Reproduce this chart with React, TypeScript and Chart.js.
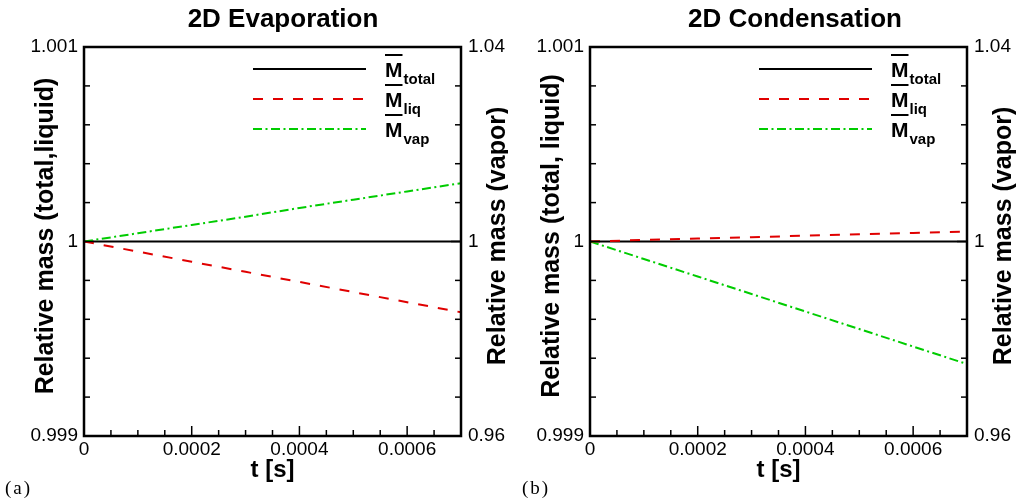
import React, { useEffect, useRef } from 'react';
import { Chart, registerables } from 'chart.js';

Chart.register(...registerables);

// ---------- data ----------
const timeValues = [0, 0.0001, 0.0002, 0.0003, 0.0004, 0.0005, 0.0006, 0.0007];

const evapTotal = [1, 1, 1, 1, 1, 1, 1, 1];
const evapLiquid = [1, 0.999948, 0.999896, 0.999844, 0.999792, 0.99974, 0.999688, 0.999636];
const evapVapor = [1, 1.0017, 1.0034, 1.0051, 1.0069, 1.0086, 1.0103, 1.012];

const condTotal = [1, 1, 1, 1, 1, 1, 1, 1];
const condLiquid = [1, 1.000008, 1.000015, 1.000022, 1.00003, 1.000037, 1.000044, 1.000051];
const condVapor = [1, 0.9964, 0.9928, 0.9892, 0.9856, 0.982, 0.9784, 0.9748];

// ---------- ticks ----------
const xTickValues = [0, 0.00005, 0.0001, 0.00015, 0.0002, 0.00025, 0.0003, 0.00035, 0.0004, 0.00045, 0.0005, 0.00055, 0.0006, 0.00065, 0.0007];
const xMajorValues = [0, 0.0002, 0.0004, 0.0006];
const xMajorLabels = ['0', '0.0002', '0.0004', '0.0006'];

const yLeftTickValues = [0.999, 0.9992, 0.9994, 0.9996, 0.9998, 1, 1.0002, 1.0004, 1.0006, 1.0008, 1.001];
const yLeftMajorValues = [0.999, 1, 1.001];
const yLeftMajorLabels = ['0.999', '1', '1.001'];

const yRightTickValues = [0.96, 0.968, 0.976, 0.984, 0.992, 1, 1.008, 1.016, 1.024, 1.032, 1.04];
const yRightMajorValues = [0.96, 1, 1.04];
const yRightMajorLabels = ['0.96', '1', '1.04'];

const legendNames = ['total', 'liq', 'vap'];
const seriesColors = ['#000000', '#e00000', '#00cc00'];

const FONT = '"Liberation Sans", Arial, Helvetica, sans-serif';

function labelFor(v: number, majors: number[], labels: string[]) {
  for (let i = 0; i < majors.length; i++) {
    if (Math.abs(v - majors[i]) < 1e-9) return labels[i];
  }
  return '';
}

type PanelCfg = {
  canvasLeft: number;
  width: number;
  yWidth: number;
  y2Width: number;
  title: string;
  titleCenter: number;
  yTitle: string;
  y2Title: string;
  tag: string;
  tagX: number;
  total: number[];
  liquid: number[];
  vapor: number[];
};

const panels: PanelCfg[] = [
  {
    canvasLeft: 0, width: 508, yWidth: 84, y2Width: 47,
    title: '2D Evaporation', titleCenter: 283,
    yTitle: 'Relative mass (total,liquid)', y2Title: 'Relative mass (vapor)',
    tag: '(a)', tagX: 5,
    total: evapTotal, liquid: evapLiquid, vapor: evapVapor,
  },
  {
    canvasLeft: 508, width: 509, yWidth: 82, y2Width: 50,
    title: '2D Condensation', titleCenter: 795,
    yTitle: 'Relative mass (total, liquid)', y2Title: 'Relative mass (vapor)',
    tag: '(b)', tagX: 522,
    total: condTotal, liquid: condLiquid, vapor: condVapor,
  },
];

const dashes: number[][] = [[], [10, 10], [9, 3.5, 2, 3.5]];

function Panel({ cfg }: { cfg: PanelCfg }) {
  const ref = useRef<HTMLCanvasElement>(null);

  useEffect(() => {
    const canvas = ref.current!;
    const off = cfg.canvasLeft;

    const decor = {
      id: 'decor',
      afterDatasetsDraw(chart: any) {
        const { ctx, chartArea: a } = chart;
        ctx.save();
        ctx.strokeStyle = '#000';
        ctx.lineWidth = 1.5;
        ctx.lineCap = 'butt';
        const xs = chart.scales.x;
        xs.ticks.forEach((t: any) => {
          const px = xs.getPixelForValue(t.value);
          const len = t.label ? 10 : 6;
          ctx.beginPath();
          ctx.moveTo(px, a.bottom);
          ctx.lineTo(px, a.bottom - len);
          ctx.stroke();
        });
        const ys = chart.scales.y;
        ys.ticks.forEach((t: any) => {
          const py = ys.getPixelForValue(t.value);
          const len = t.label ? 10 : 6;
          ctx.beginPath();
          ctx.moveTo(a.left, py);
          ctx.lineTo(a.left + len, py);
          ctx.stroke();
        });
        const y2 = chart.scales.y2;
        y2.ticks.forEach((t: any) => {
          const py = y2.getPixelForValue(t.value);
          const len = t.label ? 10 : 6;
          ctx.beginPath();
          ctx.moveTo(a.right, py);
          ctx.lineTo(a.right - len, py);
          ctx.stroke();
        });
        ctx.lineWidth = 2.5;
        ctx.strokeRect(a.left, a.top, a.right - a.left, a.bottom - a.top);
        ctx.restore();
      },
      afterDraw(chart: any) {
        const { ctx, chartArea: a } = chart;
        ctx.save();
        ctx.fillStyle = '#000';
        // title
        ctx.font = `bold 26px ${FONT}`;
        ctx.textAlign = 'center';
        ctx.textBaseline = 'alphabetic';
        ctx.fillText(cfg.title, cfg.titleCenter - off, 27);
        // x title
        ctx.font = `bold 24px ${FONT}`;
        ctx.fillText('t [s]', (a.left + a.right) / 2, 477);
        // y titles
        const midY = (a.top + a.bottom) / 2 - 5.5;
        ctx.save();
        ctx.translate(a.left - 31, midY);
        ctx.rotate(-Math.PI / 2);
        ctx.font = `bold 25px ${FONT}`;
        ctx.fillText(cfg.yTitle, 0, 0);
        ctx.restore();
        ctx.save();
        ctx.translate(a.right + 44, midY);
        ctx.rotate(-Math.PI / 2);
        ctx.font = `bold 25px ${FONT}`;
        ctx.fillText(cfg.y2Title, 0, 0);
        ctx.restore();
        // legend
        const x0 = a.left + 169;
        const x1 = a.left + 282;
        const tx = a.left + 301;
        legendNames.forEach((name, i) => {
          const ry = a.top + 22 + i * 30;
          ctx.save();
          ctx.strokeStyle = seriesColors[i];
          ctx.lineWidth = 2;
          ctx.setLineDash(dashes[i]);
          ctx.beginPath();
          ctx.moveTo(x0, ry);
          ctx.lineTo(x1, ry);
          ctx.stroke();
          ctx.restore();
          ctx.textAlign = 'left';
          ctx.font = `bold 21px ${FONT}`;
          const mw = ctx.measureText('M').width;
          ctx.fillText('M', tx, ry + 8);
          ctx.fillRect(tx, ry - 15, mw, 2);
          ctx.font = `bold 15px ${FONT}`;
          ctx.fillText(name, tx + mw + 1, ry + 15);
        });
        // panel tag
        ctx.font = `19px "Liberation Serif", "Times New Roman", serif`;
        (ctx as any).letterSpacing = '2px';
        ctx.textAlign = 'left';
        ctx.fillText(cfg.tag, cfg.tagX - off, 494);
        (ctx as any).letterSpacing = '0px';
        ctx.restore();
      },
    };

    const tickFont = { family: FONT, size: 19 };

    const chart = new Chart(canvas, {
      type: 'line',
      data: {
        datasets: [
          {
            label: 'liq',
            data: timeValues.map((t, i) => ({ x: t, y: cfg.liquid[i] })),
            borderColor: seriesColors[1],
            borderWidth: 2,
            borderDash: dashes[1],
            pointRadius: 0,
            yAxisID: 'y',
          },
          {
            label: 'vap',
            data: timeValues.map((t, i) => ({ x: t, y: cfg.vapor[i] })),
            borderColor: seriesColors[2],
            borderWidth: 2,
            borderDash: dashes[2],
            pointRadius: 0,
            yAxisID: 'y2',
          },
          {
            label: 'total',
            data: timeValues.map((t, i) => ({ x: t, y: cfg.total[i] })),
            borderColor: seriesColors[0],
            borderWidth: 2,
            pointRadius: 0,
            yAxisID: 'y',
          },
        ],
      },
      options: {
        animation: false,
        responsive: false,
        devicePixelRatio: 1,
        layout: { padding: { top: 47, left: 0, right: 0, bottom: 0 } },
        plugins: { legend: { display: false }, title: { display: false }, tooltip: { enabled: false } },
        scales: {
          x: {
            type: 'linear',
            position: 'bottom',
            min: 0,
            max: 0.0007,
            grid: { display: false, drawTicks: false },
            border: { display: false },
            afterBuildTicks: (s: any) => { s.ticks = xTickValues.map((v) => ({ value: v })); },
            afterFit: (s: any) => { s.height = 66; },
            ticks: {
              autoSkip: false,
              maxRotation: 0,
              minRotation: 0,
              padding: 2,
              color: '#000',
              font: tickFont,
              callback: (v: any) => labelFor(Number(v), xMajorValues, xMajorLabels),
            },
          },
          y: {
            type: 'linear',
            position: 'left',
            min: 0.999,
            max: 1.001,
            grid: { display: false, drawTicks: false },
            border: { display: false },
            afterBuildTicks: (s: any) => { s.ticks = yLeftTickValues.map((v) => ({ value: v })); },
            afterFit: (s: any) => { s.width = cfg.yWidth; },
            ticks: {
              autoSkip: false,
              padding: 6,
              color: '#000',
              font: tickFont,
              callback: (v: any) => labelFor(Number(v), yLeftMajorValues, yLeftMajorLabels),
            },
          },
          y2: {
            type: 'linear',
            position: 'right',
            min: 0.96,
            max: 1.04,
            grid: { display: false, drawTicks: false },
            border: { display: false },
            afterBuildTicks: (s: any) => { s.ticks = yRightTickValues.map((v) => ({ value: v })); },
            afterFit: (s: any) => { s.width = cfg.y2Width; },
            ticks: {
              autoSkip: false,
              padding: 7,
              color: '#000',
              font: tickFont,
              callback: (v: any) => labelFor(Number(v), yRightMajorValues, yRightMajorLabels),
            },
          },
        },
      },
      plugins: [decor],
    } as any);

    let alive = true;
    if ((document as any).fonts && (document as any).fonts.load) {
      Promise.all([
        (document as any).fonts.load(`bold 20px "Liberation Sans"`),
        (document as any).fonts.load(`20px "Liberation Sans"`),
        (document as any).fonts.load(`20px "Liberation Serif"`),
      ]).then(() => { if (alive) chart.update(); }).catch(() => {});
    }

    return () => { alive = false; chart.destroy(); };
  }, [cfg]);

  return (
    <div style={{ position: 'absolute', left: cfg.canvasLeft, top: 0, width: cfg.width, height: 502 }}>
      <canvas ref={ref} width={cfg.width} height={502} style={{ display: 'block' }} />
    </div>
  );
}

export default function App() {
  return (
    <div style={{ position: 'fixed', left: 0, top: 0, width: 1017, height: 502, background: '#fff' }}>
      {panels.map((p) => <Panel key={p.tag} cfg={p} />)}
    </div>
  );
}
